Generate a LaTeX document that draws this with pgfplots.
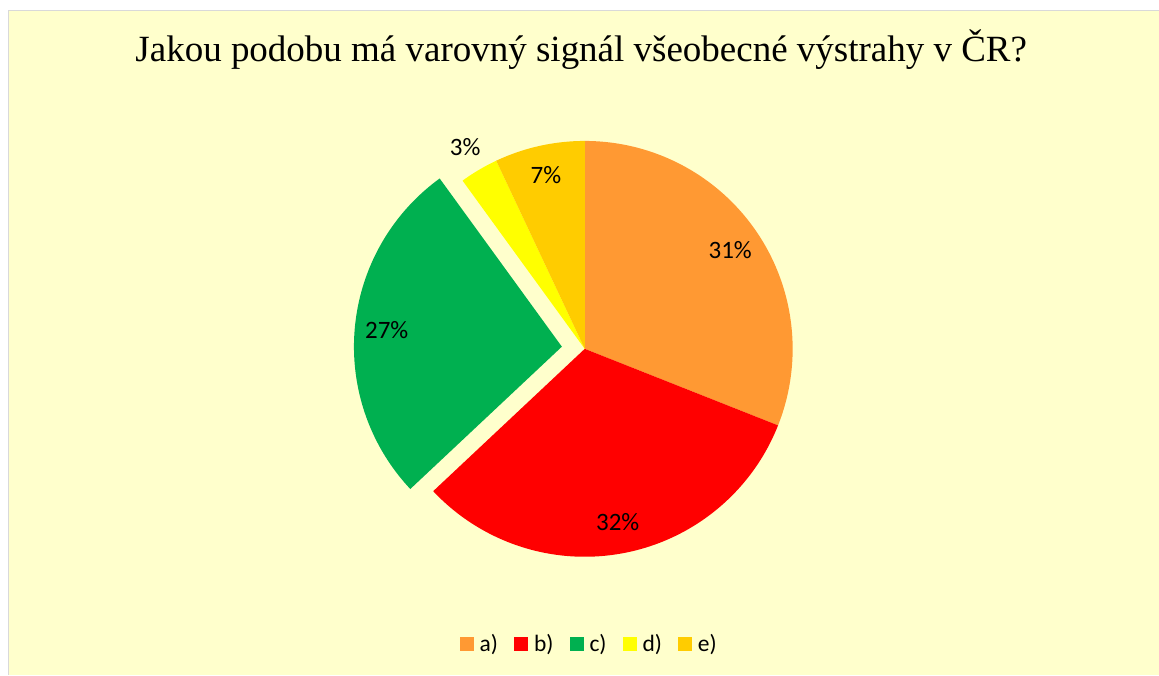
\documentclass[border=0pt]{standalone}
\usepackage{pgfplots}
\pgfplotsset{compat=1.18}
\usepackage{pgfplotstable}
\usepackage{fontspec}
\setmainfont{Liberation Serif}
\newfontfamily\calibri{Carlito}
\definecolor{cA}{HTML}{FF9933}
\definecolor{cB}{HTML}{FF0000}
\definecolor{cC}{HTML}{00B050}
\definecolor{cD}{HTML}{FFFF00}
\definecolor{cE}{HTML}{FFCC00}
\definecolor{bg}{HTML}{FFFFCC}
\definecolor{frm}{HTML}{D9D9D9}
\pgfplotstableread{
name value
a 31
b 32
c 27
d 3
e 7
}\piedata
\begin{document}
\begin{tikzpicture}
\pgfplotstablegetelem{0}{value}\of\piedata\let\vA\pgfplotsretval
\pgfplotstablegetelem{1}{value}\of\piedata\let\vB\pgfplotsretval
\pgfplotstablegetelem{2}{value}\of\piedata\let\vC\pgfplotsretval
\pgfplotstablegetelem{3}{value}\of\piedata\let\vD\pgfplotsretval
\pgfplotstablegetelem{4}{value}\of\piedata\let\vE\pgfplotsretval
\pgfmathsetmacro\sA{90}
\pgfmathsetmacro\eA{\sA-3.6*\vA}
\pgfmathsetmacro\eB{\eA-3.6*\vB}
\pgfmathsetmacro\eC{\eB-3.6*\vC}
\pgfmathsetmacro\eD{\eC-3.6*\vD}
\pgfmathsetmacro\eE{\eD-3.6*\vE}
\pgfmathsetmacro\mA{(\sA+\eA)/2}
\pgfmathsetmacro\mB{(\eA+\eB)/2}
\pgfmathsetmacro\mC{(\eB+\eC)/2}
\pgfmathsetmacro\mD{(\eC+\eD)/2}
\pgfmathsetmacro\mE{(\eD+\eE)/2}
\def\cx{585}\def\cy{326}\def\R{208}
\pgfmathsetmacro\cxC{\cx+23*cos(\mC)}
\pgfmathsetmacro\cyC{\cy+23*sin(\mC)}
\pgfmathsetmacro\lAx{\cx+176*cos(\mA)}\pgfmathsetmacro\lAy{\cy+176*sin(\mA)}
\pgfmathsetmacro\lBx{\cx+176*cos(\mB)}\pgfmathsetmacro\lBy{\cy+176*sin(\mB)}
\pgfmathsetmacro\lCx{\cxC+176*cos(\mC)}\pgfmathsetmacro\lCy{\cyC+176*sin(\mC)}
\pgfmathsetmacro\lDx{\cx+235*cos(\mD)}\pgfmathsetmacro\lDy{\cy+235*sin(\mD)}
\pgfmathsetmacro\lEx{\cx+178*cos(\mE)}\pgfmathsetmacro\lEy{\cy+178*sin(\mE)}
\begin{axis}[
  width=1159pt, height=675pt, scale only axis,
  xmin=0, xmax=1159, ymin=0, ymax=675,
  hide axis, clip=false,
  legend image code/.code={\fill[#1] (0pt,-7pt) rectangle (14pt,7pt);},
  legend style={draw=none, fill=none, inner sep=0pt,
    at={(axis cs:588.5,31)}, anchor=center,
    font=\calibri\fontsize{23.5}{27}\selectfont,
    nodes={inner sep=0pt},
    /tikz/every odd column/.append style={column sep=6pt},
    /tikz/every even column/.append style={column sep=16pt}},
  legend columns=5,
]
\fill[white] (axis cs:0,0) rectangle (axis cs:1159,675);
\fill[bg] (axis cs:9,0) rectangle (axis cs:1159,664);
\draw[frm, line width=1pt] (axis cs:8.5,0) -- (axis cs:8.5,664.5) -- (axis cs:1159,664.5);
\node[anchor=base, font=\fontsize{37}{41}\selectfont, inner sep=0pt] at (axis cs:581.5,613) {Jakou podobu má varovný signál všeobecné výstrahy v ČR?};
\addplot[draw=none, fill=cA, domain=\eA:\sA, samples=120, forget plot] ({\cx+\R*cos(x)},{\cy+\R*sin(x)}) -- (axis cs:\cx,\cy) -- cycle;
\addplot[draw=none, fill=cB, domain=\eB:\eA, samples=120, forget plot] ({\cx+\R*cos(x)},{\cy+\R*sin(x)}) -- (axis cs:\cx,\cy) -- cycle;
\addplot[draw=none, fill=cC, domain=\eC:\eB, samples=120, forget plot] ({\cxC+\R*cos(x)},{\cyC+\R*sin(x)}) -- (axis cs:\cxC,\cyC) -- cycle;
\addplot[draw=none, fill=cD, domain=\eD:\eC, samples=30, forget plot] ({\cx+\R*cos(x)},{\cy+\R*sin(x)}) -- (axis cs:\cx,\cy) -- cycle;
\addplot[draw=none, fill=cE, domain=\eE:\eD, samples=50, forget plot] ({\cx+\R*cos(x)},{\cy+\R*sin(x)}) -- (axis cs:\cx,\cy) -- cycle;
\node[font=\calibri\fontsize{25}{29}\selectfont, inner sep=0pt] at (axis cs:\lAx,\lAy) {\vA\%};
\node[font=\calibri\fontsize{25}{29}\selectfont, inner sep=0pt] at (axis cs:\lBx,\lBy) {\vB\%};
\node[font=\calibri\fontsize{25}{29}\selectfont, inner sep=0pt] at (axis cs:\lCx,\lCy) {\vC\%};
\node[font=\calibri\fontsize{25}{29}\selectfont, inner sep=0pt] at (axis cs:\lDx,\lDy) {\vD\%};
\node[font=\calibri\fontsize{25}{29}\selectfont, inner sep=0pt] at (axis cs:\lEx,\lEy) {\vE\%};
\addlegendimage{fill=cA, draw=none}\addlegendentry{a)}
\addlegendimage{fill=cB, draw=none}\addlegendentry{b)}
\addlegendimage{fill=cC, draw=none}\addlegendentry{c)}
\addlegendimage{fill=cD, draw=none}\addlegendentry{d)}
\addlegendimage{fill=cE, draw=none}\addlegendentry{e)}
\end{axis}
\end{tikzpicture}
\end{document}
